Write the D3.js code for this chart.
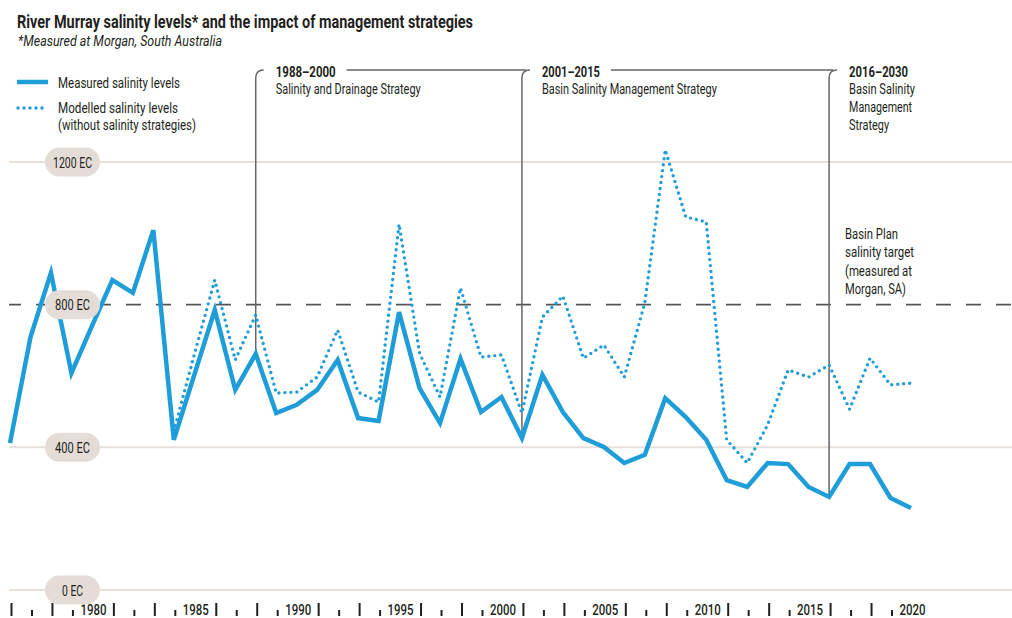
<!DOCTYPE html>
<html>
<head>
<meta charset="utf-8">
<script src="https://cdn.jsdelivr.net/npm/d3@7"></script>
<style>
  body { margin: 0; background: #fff; }
  svg text { font-family: Roboto, "DejaVu Sans Condensed", "Liberation Sans Narrow", sans-serif; fill: #231f20; }
</style>
</head>
<body>
<svg id="chart" width="1012" height="618"></svg>
<script>
// ---- data (EC units) ----
var years = [1976, 1977, 1978, 1979, 1980, 1981, 1982, 1983, 1984, 1985, 1986, 1987, 1988, 1989, 1990,
             1991, 1992, 1993, 1994, 1995, 1996, 1997, 1998, 1999, 2000, 2001, 2002, 2003, 2004, 2005,
             2006, 2007, 2008, 2009, 2010, 2011, 2012, 2013, 2014, 2015, 2016, 2017, 2018, 2019, 2020];
var measured = [412, 709, 889, 608, 740, 869, 833, 1009, 421, 603, 785, 561, 662, 496, 519,
                561, 645, 482, 474, 779, 566, 468, 648, 499, 541, 426, 603, 499, 426, 401,
                356, 379, 538, 485, 421, 308, 289, 356, 353, 289, 261, 353, 353, 258, 230];
var modelledYears = years.slice(8); // modelled series starts in 1984
var modelled = [445, 660, 869, 645, 771, 552, 555, 597, 729, 555, 527, 1026, 664, 541, 847, 653, 659,
                496, 765, 824, 650, 687, 597, 805, 1234, 1046, 1032, 421, 356, 463, 617, 597, 631,
                507, 650, 575, 580];
var yTicks = [0, 400, 800, 1200];
var target = 800;
var strategyStart = [1988, 2001, 2016];
var strategyRange = ["1988\u20132000", "2001\u20132015", "2016\u20132030"];
var strategyName = [["Salinity and Drainage Strategy"],
                    ["Basin Salinity Management Strategy"],
                    ["Basin Salinity", "Management", "Strategy"]];
var targetNote = ["Basin Plan", "salinity target", "(measured at", "Morgan, SA)"];

var svg = d3.select("#chart");
var blue = "#1f9dd9";

var x = d3.scaleLinear().domain([1976, 2020]).range([10, 911]);
var y = d3.scaleLinear().domain([0, 1200]).range([590, 162]);

// squeeze text into the condensed widths of the original
function fit(sel, w) {
  return sel.attr("textLength", w).attr("lengthAdjust", "spacingAndGlyphs");
}

// title
fit(svg.append("text").attr("x", 17).attr("y", 28)
   .style("font-size", "19px").style("font-weight", "bold")
   .text("River Murray salinity levels* and the impact of management strategies"), 456);
fit(svg.append("text").attr("x", 18).attr("y", 46)
   .style("font-size", "15px").style("font-style", "italic")
   .text("*Measured at Morgan, South Australia"), 204);

// grid
var grid = svg.append("g");
grid.selectAll("line")
  .data(yTicks)
  .enter().append("line")
  .attr("x1", 9).attr("x2", 1012)
  .attr("y1", d => y(d)).attr("y2", d => y(d))
  .attr("stroke", d => d === target ? "#555" : "#e8e1db")
  .attr("stroke-width", d => d === target ? 1.6 : 2)
  .attr("stroke-dasharray", d => d === target ? "15,15" : null)
  .attr("stroke-dashoffset", d => d === target ? 3 : null);

// x axis: labels every 5 years, alternating tall / short ticks between
var ax = svg.append("g");
years.forEach(function(yr) {
  var px = x(yr) + 1.5;
  if (yr % 5 === 0) {
    fit(ax.append("text").attr("x", px).attr("y", 615)
       .attr("text-anchor", "middle")
       .style("font-size", "15px").style("font-weight", 500)
       .text(yr), 26);
  } else {
    var tall = (yr % 5) % 2 === 1;
    ax.append("line")
      .attr("x1", px).attr("x2", px)
      .attr("y1", tall ? 603 : 610).attr("y2", 616)
      .attr("stroke", "#231f20").attr("stroke-width", 2);
  }
});

// strategy brackets
var brackets = svg.append("g");
var rangeW = [60, 58, 59];
var nameW = [[145], [175], [66, 63, 40]];
strategyStart.forEach(function(yr, i) {
  var px = x(yr);
  var yBottom = y(measured[years.indexOf(yr)]) - 2;
  brackets.append("path")
    .attr("d", "M" + px + "," + yBottom + "L" + px + ",78Q" + px + ",70 " + (px + 8) + ",70")
    .attr("fill", "none").attr("stroke", "#666").attr("stroke-width", 1.5);
  fit(brackets.append("text").attr("x", px + 20).attr("y", 77)
     .style("font-size", "15px").style("font-weight", "bold")
     .text(strategyRange[i]), rangeW[i]);
  strategyName[i].forEach(function(s, j) {
    fit(brackets.append("text").attr("x", px + 20).attr("y", 94 + j * 18)
       .style("font-size", "15px")
       .text(s), nameW[i][j]);
  });
  if (i < strategyStart.length - 1) {
    brackets.append("line")
      .attr("x1", px + 20 + rangeW[i] + 11).attr("x2", x(strategyStart[i + 1]) + 4)
      .attr("y1", 70).attr("y2", 70)
      .attr("stroke", "#666").attr("stroke-width", 1.5);
  }
});

// target note
var noteW = [53, 69, 67, 61];
targetNote.forEach(function(s, j) {
  fit(svg.append("text").attr("x", 845).attr("y", 239 + j * 18.4)
     .style("font-size", "15px").text(s), noteW[j]);
});

// data lines
var line = d3.line()
  .x(d => x(d[0]))
  .y(d => y(d[1]));

svg.append("path")
  .datum(d3.zip(modelledYears, modelled))
  .attr("d", line)
  .attr("fill", "none")
  .attr("stroke", blue)
  .attr("stroke-width", 3.4)
  .attr("stroke-linecap", "round")
  .attr("stroke-dasharray", "0,6");

svg.append("path")
  .datum(d3.zip(years, measured))
  .attr("d", line)
  .attr("fill", "none")
  .attr("stroke", blue)
  .attr("stroke-width", 4.5)
  .attr("stroke-linejoin", "miter");

// y labels in pills (sit on top of the lines)
var pills = svg.append("g").selectAll("g")
  .data(yTicks)
  .enter().append("g")
  .attr("transform", d => "translate(72.5," + y(d) + ")");
pills.append("rect")
  .attr("x", -27.5).attr("y", -14.5)
  .attr("width", 55).attr("height", 29)
  .attr("rx", 14.5)
  .attr("fill", "#e4ddd7");
pills.append("text")
  .attr("text-anchor", "middle")
  .attr("y", 5.5)
  .style("font-size", "15px")
  .text(d => d + " EC")
  .each(function(d) { fit(d3.select(this), d >= 1000 ? 39 : (d >= 100 ? 35 : 21)); });

// legend
var legend = svg.append("g");
legend.append("line")
  .attr("x1", 17).attr("x2", 48).attr("y1", 82).attr("y2", 82)
  .attr("stroke", blue).attr("stroke-width", 4.5);
legend.append("line")
  .attr("x1", 18).attr("x2", 48).attr("y1", 108).attr("y2", 108)
  .attr("stroke", blue).attr("stroke-width", 3.4)
  .attr("stroke-linecap", "round").attr("stroke-dasharray", "0,6");
fit(legend.append("text").attr("x", 58).attr("y", 88).style("font-size", "15px")
   .text("Measured salinity levels"), 122);
fit(legend.append("text").attr("x", 58).attr("y", 113).style("font-size", "15px")
   .text("Modelled salinity levels"), 120);
fit(legend.append("text").attr("x", 58).attr("y", 130).style("font-size", "15px")
   .text("(without salinity strategies)"), 138);
</script>
</body>
</html>
